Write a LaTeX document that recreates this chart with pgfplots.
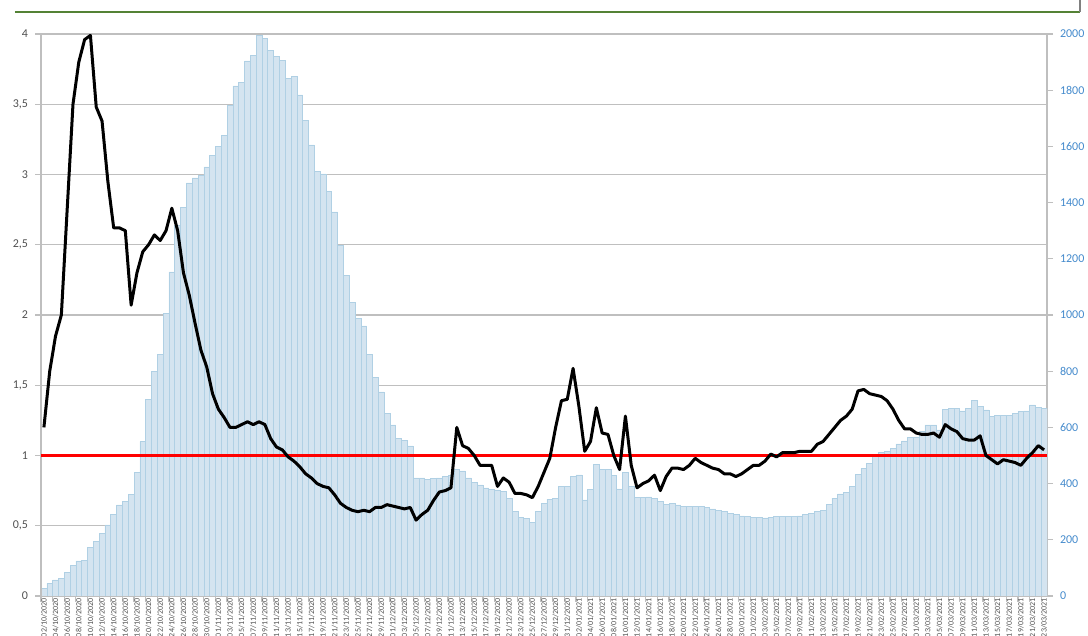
\documentclass[border=0pt]{standalone}
\usepackage{pgfplots}
\pgfplotsset{compat=1.18}
\usepackage{pgfplotstable}
\usepackage{pgfcalendar}
\usepackage{fontspec}
\setmainfont{Carlito}
\definecolor{barfill}{RGB}{212,228,240}
\definecolor{baredge}{RGB}{176,208,228}
\definecolor{tickblue}{RGB}{68,138,204}
\definecolor{labgray}{RGB}{80,80,80}
\definecolor{gridgray}{RGB}{191,191,191}
\definecolor{topgreen}{RGB}{84,130,53}
\newcount\startjul
\newcount\tmpjul
\pgfcalendardatetojulian{2020-10-02}{\startjul}

\pgfplotstableread{
i h r
0 27 1.20
1 45 1.60
2 57 1.85
3 63 2.00
4 83 2.75
5 110 3.50
6 125 3.80
7 128 3.96
8 172 3.99
9 193 3.48
10 223 3.38
11 253 2.95
12 291 2.62
13 324 2.62
14 336 2.60
15 362 2.07
16 440 2.30
17 549 2.45
18 700 2.50
19 800 2.57
20 860 2.53
21 1007 2.60
22 1153 2.76
23 1320 2.60
24 1384 2.30
25 1470 2.14
26 1488 1.94
27 1498 1.75
28 1527 1.63
29 1569 1.44
30 1600 1.33
31 1640 1.27
32 1747 1.20
33 1815 1.20
34 1827 1.22
35 1904 1.24
36 1925 1.22
37 1996 1.24
38 1985 1.22
39 1941 1.12
40 1919 1.06
41 1907 1.04
42 1842 0.99
43 1848 0.96
44 1783 0.92
45 1693 0.87
46 1605 0.84
47 1510 0.80
48 1502 0.78
49 1440 0.77
50 1367 0.72
51 1249 0.66
52 1142 0.63
53 1046 0.61
54 989 0.60
55 961 0.61
56 861 0.60
57 779 0.63
58 726 0.63
59 650 0.65
60 609 0.64
61 562 0.63
62 555 0.62
63 534 0.63
64 420 0.54
65 420 0.58
66 415 0.61
67 418 0.68
68 420 0.74
69 425 0.75
70 430 0.77
71 450 1.20
72 445 1.07
73 420 1.05
74 405 1.00
75 395 0.93
76 385 0.93
77 380 0.93
78 375 0.78
79 371 0.84
80 348 0.81
81 300 0.73
82 280 0.73
83 277 0.72
84 261 0.70
85 300 0.78
86 330 0.88
87 345 0.98
88 348 1.20
89 389 1.39
90 389 1.40
91 427 1.62
92 431 1.35
93 342 1.03
94 380 1.10
95 469 1.34
96 451 1.16
97 451 1.15
98 428 1.00
99 381 0.90
100 440 1.28
101 389 0.93
102 351 0.77
103 351 0.80
104 353 0.82
105 348 0.86
106 336 0.75
107 327 0.85
108 330 0.91
109 324 0.91
110 318 0.90
111 318 0.93
112 318 0.98
113 318 0.95
114 316 0.93
115 310 0.91
116 305 0.90
117 300 0.87
118 295 0.87
119 290 0.85
120 285 0.87
121 282 0.90
122 280 0.93
123 280 0.93
124 278 0.96
125 280 1.01
126 282 0.99
127 282 1.02
128 283 1.02
129 283 1.02
130 285 1.03
131 290 1.03
132 295 1.03
133 300 1.08
134 304 1.10
135 327 1.15
136 348 1.20
137 363 1.25
138 368 1.28
139 391 1.33
140 433 1.46
141 454 1.47
142 472 1.44
143 496 1.43
144 510 1.42
145 514 1.39
146 526 1.33
147 541 1.25
148 552 1.19
149 565 1.19
150 566 1.16
151 585 1.15
152 609 1.15
153 609 1.16
154 591 1.13
155 664 1.22
156 668 1.19
157 668 1.17
158 659 1.12
159 668 1.11
160 695 1.11
161 674 1.14
162 662 1.00
163 638 0.97
164 644 0.94
165 644 0.97
166 644 0.96
167 650 0.95
168 656 0.93
169 659 0.98
170 680 1.02
171 672 1.07
172 668 1.04
}\data

\begin{document}
\begin{tikzpicture}
\pgfplotsset{every axis/.append style={width=503pt,height=281pt,scale only axis,
  xmin=-0.5,xmax=172.5,
  axis line style={gridgray,line width=0.6pt},
  tick style={gridgray,line width=0.6pt},
  tick align=outside,
  tick label style={font=\fontsize{6}{7}\selectfont},
  /pgf/number format/assume math mode=true}}
% background: grid + x axis
\begin{axis}[ymin=0,ymax=4,
  axis x line*=bottom, axis y line*=left,
  ytick={0,0.5,...,4}, yticklabels={},
  ymajorgrids, grid style={gridgray,line width=0.6pt},
  major tick length=0pt, minor tick length=3pt,
  xtick={0,2,...,172},
  minor xtick={-0.5,1.5,...,172.5},
  xticklabel={\pgfmathtruncatemacro\k{round(\tick)}\tmpjul=\startjul\advance\tmpjul by \k\relax\pgfcalendarjuliantodate{\the\tmpjul}{\yy}{\mm}{\dd}\dd/\mm/\yy},
  x tick label style={rotate=90,anchor=east,font=\fontsize{4}{4}\selectfont,text=labgray,inner sep=1pt},
]
\addplot[draw=none] coordinates {(0,0)};
\coordinate (BL) at (rel axis cs:0,0);
\coordinate (TR) at (rel axis cs:1,1);
\coordinate (TL) at (rel axis cs:0,1);
\end{axis}
% bars on right axis
\begin{axis}[ymin=0,ymax=2000,
  axis y line*=right, axis x line=none,
  ytick={0,200,...,2000},
  major tick length=3pt,
  y tick label style={text=tickblue,/pgf/number format/1000 sep={}},
]
\addplot[ybar,bar width=1,bar shift=0pt,fill=barfill,draw=baredge,line width=0.3pt] table[x=i,y=h]{\data};
\end{axis}
% line on left axis
\begin{axis}[ymin=0,ymax=4,
  axis y line*=left, axis x line=none,
  ytick={0,0.5,...,4},
  major tick length=3pt,
  y tick label style={text=labgray,/pgf/number format/use comma},
]
\addplot[red,line width=1.6pt] coordinates {(-0.5,1) (172.5,1)};
\addplot[black,line width=1.5pt,line join=round] table[x=i,y=r]{\data};
\end{axis}
\draw[topgreen,line width=1pt] ([shift={(-13pt,11pt)}]TL) -- ([shift={(16.5pt,11pt)}]TR);
\draw[gray,line width=0.6pt] ([shift={(16.5pt,11pt)}]TR) -- ([shift={(16.5pt,18pt)}]TR);
\pgfresetboundingbox
\path[use as bounding box] ([shift={(-20.5pt,-20pt)}]BL) rectangle ([shift={(20.5pt,17pt)}]TR);
\end{tikzpicture}
\end{document}
